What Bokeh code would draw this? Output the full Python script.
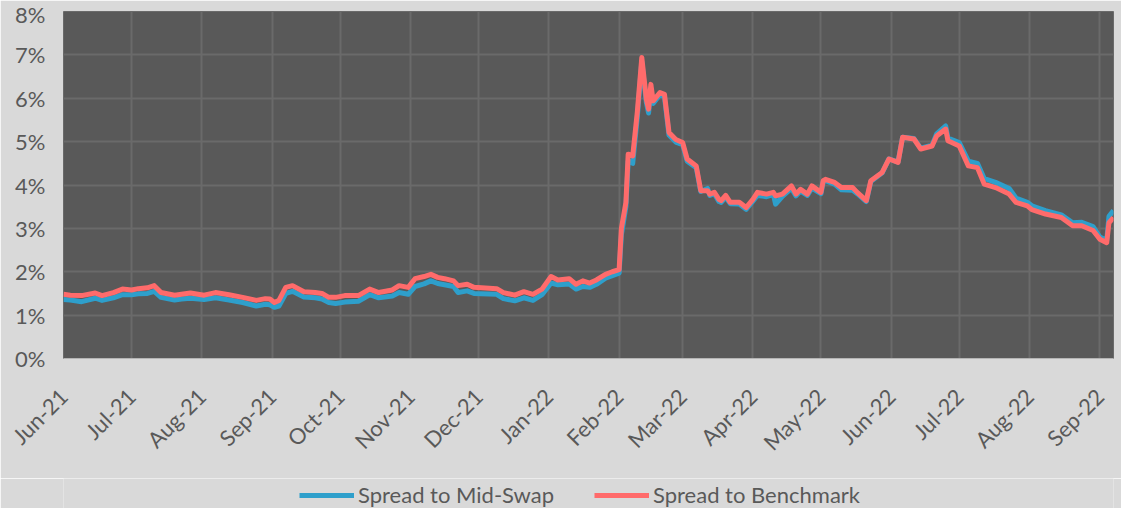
import datetime as dt
import pandas as pd
from bokeh.plotting import figure
from bokeh.layouts import column
from bokeh.models import (ColumnDataSource, Range1d, FixedTicker, PrintfTickFormatter,
                          MonthsTicker, DatetimeTickFormatter, Legend, LegendItem)
from bokeh.embed import file_html
from bokeh.resources import INLINE
from math import pi

dates = [
    "2021-06-01", "2021-06-04", "2021-06-09", "2021-06-15", "2021-06-18", "2021-06-23", "2021-06-27",
    "2021-07-01", "2021-07-04", "2021-07-08", "2021-07-11", "2021-07-14", "2021-07-20", "2021-07-23",
    "2021-07-27", "2021-08-02", "2021-08-07", "2021-08-13", "2021-08-19", "2021-08-25", "2021-08-29",
    "2021-08-31", "2021-09-02", "2021-09-04", "2021-09-07", "2021-09-10", "2021-09-15", "2021-09-20",
    "2021-09-23", "2021-09-26", "2021-09-29", "2021-10-03", "2021-10-09", "2021-10-14", "2021-10-18",
    "2021-10-24", "2021-10-27", "2021-10-31", "2021-11-03", "2021-11-07", "2021-11-10", "2021-11-13",
    "2021-11-16", "2021-11-20", "2021-11-22", "2021-11-26", "2021-11-29", "2021-12-09", "2021-12-12",
    "2021-12-17", "2021-12-21", "2021-12-25", "2021-12-29", "2022-01-02", "2022-01-05", "2022-01-10",
    "2022-01-13", "2022-01-16", "2022-01-19", "2022-01-22", "2022-01-26", "2022-01-29", "2022-02-01",
    "2022-02-02", "2022-02-04", "2022-02-05", "2022-02-07", "2022-02-09", "2022-02-11", "2022-02-13",
    "2022-02-14", "2022-02-15", "2022-02-16", "2022-02-19", "2022-02-21", "2022-02-23", "2022-02-26",
    "2022-03-01", "2022-03-03", "2022-03-07", "2022-03-09", "2022-03-12", "2022-03-13", "2022-03-15",
    "2022-03-17", "2022-03-18", "2022-03-20", "2022-03-22", "2022-03-26", "2022-03-29", "2022-04-01",
    "2022-04-03", "2022-04-07", "2022-04-10", "2022-04-11", "2022-04-14", "2022-04-18", "2022-04-20",
    "2022-04-22", "2022-04-25", "2022-04-27", "2022-05-01", "2022-05-02", "2022-05-03", "2022-05-07",
    "2022-05-10", "2022-05-15", "2022-05-17", "2022-05-21", "2022-05-23", "2022-05-28", "2022-05-31",
    "2022-06-04", "2022-06-06", "2022-06-11", "2022-06-14", "2022-06-19", "2022-06-21", "2022-06-25",
    "2022-06-26", "2022-07-01", "2022-07-05", "2022-07-09", "2022-07-12", "2022-07-17", "2022-07-23",
    "2022-07-26", "2022-07-31", "2022-08-02", "2022-08-08", "2022-08-15", "2022-08-20", "2022-08-24",
    "2022-08-29", "2022-09-01", "2022-09-04", "2022-09-05", "2022-09-07",
]

spread_mid_swap = [
    1.36, 1.35, 1.31, 1.39, 1.34, 1.40, 1.47,
    1.47, 1.49, 1.50, 1.55, 1.41, 1.35, 1.37,
    1.39, 1.36, 1.40, 1.35, 1.29, 1.21, 1.25,
    1.24, 1.18, 1.21, 1.50, 1.55, 1.42, 1.40,
    1.37, 1.29, 1.27, 1.30, 1.32, 1.47, 1.40,
    1.44, 1.52, 1.48, 1.66, 1.72, 1.79, 1.73,
    1.70, 1.66, 1.52, 1.56, 1.50, 1.48, 1.38,
    1.33, 1.40, 1.34, 1.47, 1.74, 1.70, 1.72,
    1.60, 1.66, 1.64, 1.71, 1.85, 1.91, 1.97,
    2.85, 3.50, 4.55, 4.50, 5.55, 6.85, 5.90,
    5.66, 6.20, 5.88, 6.08, 6.03, 5.15, 4.99,
    4.93, 4.55, 4.40, 3.85, 3.92, 3.76, 3.80,
    3.62, 3.60, 3.72, 3.57, 3.56, 3.44, 3.63,
    3.76, 3.73, 3.78, 3.56, 3.74, 3.92, 3.75,
    3.86, 3.76, 3.93, 3.80, 4.07, 4.10, 4.02,
    3.89, 3.88, 3.80, 3.62, 4.08, 4.28, 4.60,
    4.53, 5.10, 5.07, 4.85, 4.92, 5.18, 5.36,
    5.08, 4.98, 4.55, 4.50, 4.15, 4.06, 3.92,
    3.70, 3.60, 3.52, 3.41, 3.31, 3.13, 3.14,
    3.04, 2.80, 2.72, 3.28, 3.41,
]

spread_benchmark = [
    1.48, 1.46, 1.45, 1.51, 1.45, 1.52, 1.60,
    1.58, 1.61, 1.63, 1.68, 1.52, 1.46, 1.48,
    1.51, 1.46, 1.52, 1.47, 1.41, 1.34, 1.38,
    1.37, 1.29, 1.34, 1.64, 1.68, 1.54, 1.52,
    1.50, 1.41, 1.41, 1.45, 1.45, 1.60, 1.52,
    1.58, 1.68, 1.64, 1.84, 1.89, 1.94, 1.87,
    1.84, 1.79, 1.68, 1.71, 1.64, 1.61, 1.52,
    1.46, 1.54, 1.48, 1.60, 1.89, 1.81, 1.84,
    1.71, 1.79, 1.74, 1.81, 1.94, 2.00, 2.05,
    3.00, 3.60, 4.71, 4.67, 5.67, 6.94, 5.98,
    5.75, 6.32, 5.94, 6.13, 6.09, 5.21, 5.05,
    4.98, 4.60, 4.44, 3.87, 3.87, 3.79, 3.83,
    3.67, 3.64, 3.76, 3.60, 3.60, 3.48, 3.67,
    3.83, 3.79, 3.83, 3.75, 3.79, 3.98, 3.79,
    3.90, 3.79, 3.98, 3.83, 4.10, 4.13, 4.06,
    3.94, 3.94, 3.83, 3.64, 4.10, 4.29, 4.60,
    4.52, 5.10, 5.06, 4.83, 4.90, 5.13, 5.29,
    5.02, 4.90, 4.44, 4.40, 4.02, 3.94, 3.79,
    3.60, 3.52, 3.43, 3.33, 3.25, 3.06, 3.06,
    2.95, 2.75, 2.67, 3.13, 3.25,
]

y_ticks = [0, 1, 2, 3, 4, 5, 6, 7, 8]
series_names = ["Spread to Mid-Swap", "Spread to Benchmark"]
series_colors = ["#2E9FCB", "#FF6B6B"]

FONT = "Lato"
TXT = "#595959"
BG = "#d9d9d9"

src = ColumnDataSource(dict(date=pd.to_datetime(dates), mid=spread_mid_swap, bench=spread_benchmark))

# ---- main chart ----
p = figure(width=1121, height=478, x_axis_type="datetime", output_backend="svg",
           toolbar_location=None,
           x_range=Range1d(dt.datetime(2021, 6, 1), dt.datetime(2022, 9, 7)),
           y_range=Range1d(0, 8),
           min_border_left=63, min_border_right=8, min_border_top=11, min_border_bottom=120)

p.background_fill_color = "#595959"
p.border_fill_color = BG
p.outline_line_color = "#6a6a6a"

p.xaxis.ticker = MonthsTicker(months=list(range(12)))
p.xaxis.formatter = DatetimeTickFormatter(months="%b-%y", days="%b-%y", years="%b-%y")
p.xaxis.major_label_orientation = pi / 4
p.yaxis.ticker = FixedTicker(ticks=y_ticks)
p.yaxis.formatter = PrintfTickFormatter(format="%d%%")

for ax in (p.xaxis, p.yaxis):
    ax.major_tick_line_color = None
    ax.minor_tick_line_color = None
    ax.major_label_text_font = FONT
    ax.major_label_text_font_size = "22px"
    ax.major_label_text_color = TXT
p.yaxis.axis_line_color = None
p.xaxis.axis_line_color = "#b5b5b5"
p.yaxis.major_label_standoff = 12
p.xaxis.major_label_standoff = 28

p.xgrid.grid_line_color = "#6a6a6a"
p.ygrid.grid_line_color = "#6a6a6a"
p.xgrid.grid_line_width = 2
p.ygrid.grid_line_width = 2

p.line("date", "mid", source=src, line_color=series_colors[0], line_width=5, line_join="round")
p.line("date", "bench", source=src, line_color=series_colors[1], line_width=5, line_join="round")

# ---- legend strip (own small figure, so the legend sits inside its frame) ----
lg = figure(width=1121, height=30, output_backend="svg", toolbar_location=None,
            x_range=Range1d(0, 1), y_range=Range1d(0, 1),
            min_border_left=0, min_border_right=0, min_border_top=0, min_border_bottom=0)
lg.axis.visible = False
lg.grid.visible = False
lg.outline_line_color = None
lg.background_fill_color = BG
lg.border_fill_color = BG
k1 = lg.line([0, 1], [-5, -5], line_color=series_colors[0], line_width=5)
k2 = lg.line([0, 1], [-5, -5], line_color=series_colors[1], line_width=5)

legend = Legend(items=[LegendItem(label=series_names[0], renderers=[k1]),
                       LegendItem(label=series_names[1], renderers=[k2])],
                orientation="horizontal", location=(236, 0),
                background_fill_alpha=0, border_line_color=None, padding=0, margin=0,
                spacing=40, glyph_width=55, glyph_height=20, label_standoff=4,
                label_text_font=FONT, label_text_font_size="22px", label_text_color=TXT)
lg.add_layout(legend)

layout = column(p, lg, spacing=0)
open("out.html", "w").write(file_html(layout, INLINE))
